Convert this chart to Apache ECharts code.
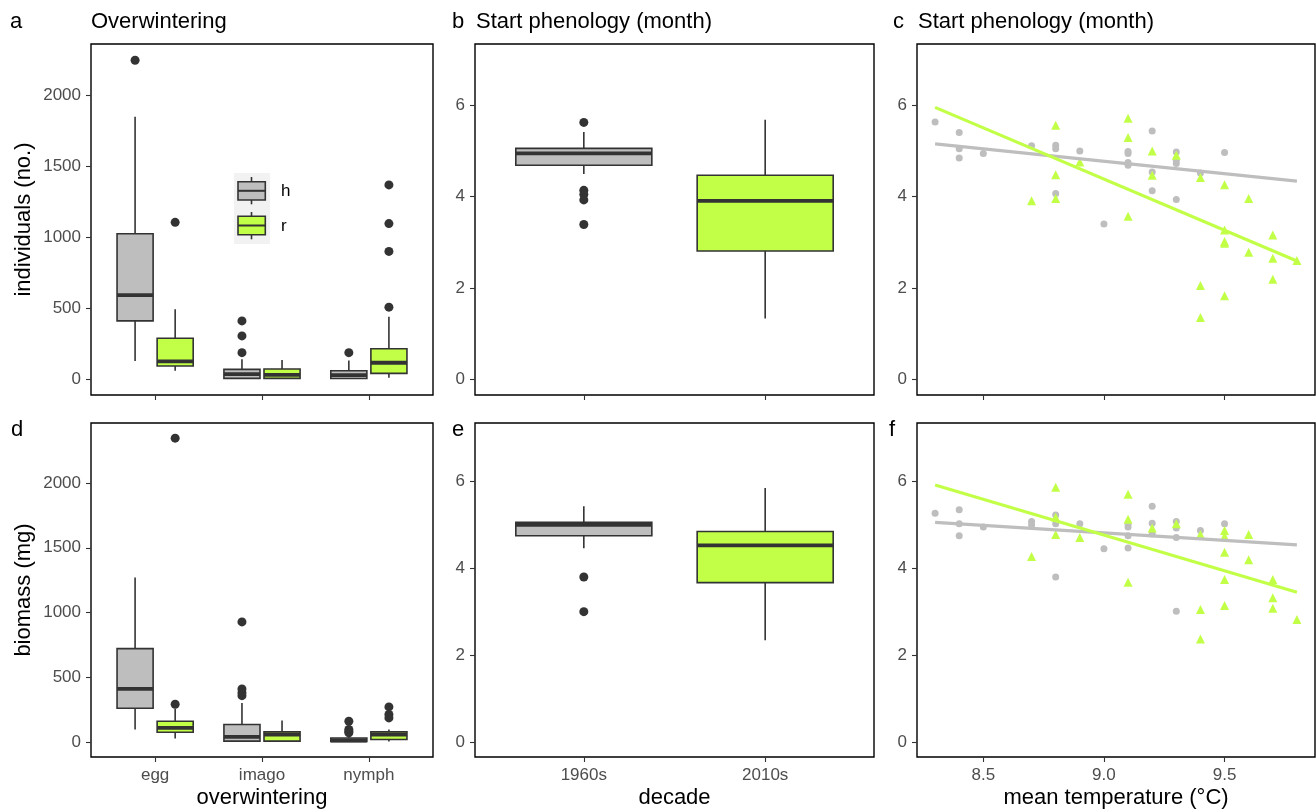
<!DOCTYPE html>
<html><head><meta charset="utf-8">
<script src="https://cdn.jsdelivr.net/npm/echarts@6/dist/echarts.min.js"></script>
<style>html,body{margin:0;padding:0;background:#fff}#c{width:1316px;height:812px}</style>
</head><body><div id="c"></div>
<script>
// ---------------- data ----------------
const overwinterCats = ['egg', 'imago', 'nymph'];
const decadeCats = ['1960s', '2010s'];
const groupNames = ['h', 'r'];
const countTicks = [0, 500, 1000, 1500, 2000];
const monthTicks = [0, 2, 4, 6];
const tempTicks = [8.5, 9.0, 9.5];

// box stats per category: [lower whisker, Q1, median, Q3, upper whisker]
const indivH = [[127, 410, 592, 1025, 1850], [0, 5, 35, 68, 139], [0, 4, 28, 59, 130]];
const indivR = [[59, 92, 125, 288, 493], [0, 5, 30, 71, 134], [10, 40, 115, 214, 440]];
const indivOutH = [[2248], [410, 304, 186], [186]];
const indivOutR = [[1105], [], [1369, 1096, 900, 507]];

const bioH = [[95, 259, 409, 720, 1271], [0, 5, 38, 134, 301], [0, 3, 10, 30, 42]];
const bioR = [[25, 74, 108, 159, 255], [0, 5, 56, 77, 164], [3, 18, 56, 77, 95]];
const bioOutH = [[], [927, 409, 380, 357], [159, 95, 80, 70]];
const bioOutR = [[2347, 290], [], [270, 211, 185]];

// per decade (1960s = h, 2010s = r)
const startBoxH = [[4.50, 4.69, 4.95, 5.06, 5.42]];
const startBoxR = [[1.33, 2.81, 3.91, 4.47, 5.69]];
const startOut = [[5.63, 4.14, 4.05, 3.93, 3.39], []];
const start2BoxH = [[4.46, 4.75, 5.00, 5.06, 5.43]];
const start2BoxR = [[2.34, 3.67, 4.53, 4.85, 5.85]];
const start2Out = [[3.80, 3.00], []];

// [mean temperature, start month]
const cH = [[8.3,5.64],[8.4,5.41],[8.4,5.05],[8.4,4.85],[8.5,4.95],[8.7,5.12],[8.8,5.13],[8.8,5.05],[8.8,4.07],[8.9,5.0],[9.0,3.40],[9.1,4.99],[9.1,4.95],[9.1,4.75],[9.1,4.69],[9.2,5.44],[9.2,4.54],[9.2,4.13],[9.3,4.98],[9.3,4.80],[9.3,4.73],[9.3,3.94],[9.4,4.52],[9.5,4.97]];
const cR = [[8.7,3.91],[8.8,5.57],[8.8,4.48],[8.8,3.96],[8.9,4.76],[9.1,5.72],[9.1,5.30],[9.1,3.57],[9.2,5.0],[9.2,4.47],[9.3,4.91],[9.4,4.42],[9.4,2.05],[9.4,1.35],[9.5,4.26],[9.5,3.27],[9.5,3.02],[9.5,2.98],[9.5,1.83],[9.6,3.96],[9.6,2.78],[9.7,3.16],[9.7,2.65],[9.7,2.19],[9.8,2.60]];
const fH = [[8.3,5.27],[8.4,5.35],[8.4,5.03],[8.4,4.75],[8.5,4.95],[8.7,5.08],[8.7,5.0],[8.8,5.23],[8.8,5.03],[8.8,3.80],[8.9,5.03],[9.0,4.45],[9.1,5.02],[9.1,4.95],[9.1,4.75],[9.1,4.47],[9.2,5.43],[9.2,5.04],[9.2,4.79],[9.3,5.08],[9.3,4.93],[9.3,4.71],[9.3,3.01],[9.4,4.87],[9.5,5.03]];
const fR = [[8.7,4.27],[8.8,5.87],[8.8,5.18],[8.8,4.78],[8.9,4.71],[9.1,5.71],[9.1,5.13],[9.1,3.68],[9.2,4.93],[9.3,5.03],[9.4,4.78],[9.4,3.05],[9.4,2.37],[9.5,4.87],[9.5,4.74],[9.5,4.37],[9.5,3.74],[9.5,3.14],[9.6,4.78],[9.6,4.20],[9.7,3.74],[9.7,3.32],[9.7,3.08],[9.8,2.82]];

// fitted line end points
const cFitH = [[8.3, 5.16], [9.8, 4.34]];
const cFitR = [[8.3, 5.96], [9.8, 2.59]];
const fFitH = [[8.3, 5.06], [9.8, 4.54]];
const fFitR = [[8.3, 5.92], [9.8, 3.45]];

// ---------------- style ----------------
const FONT = "'Liberation Sans', Arial, Helvetica, sans-serif";
const GREY = '#bebebe', GREEN = '#c2ff47', DARK = '#333333', TICKC = '#4d4d4d';

const gridPos = [
  {left: 91, top: 44, width: 342, height: 351},
  {left: 475, top: 44, width: 399, height: 351},
  {left: 917, top: 44, width: 398, height: 351},
  {left: 91, top: 423, width: 342, height: 334},
  {left: 475, top: 423, width: 399, height: 334},
  {left: 917, top: 423, width: 398, height: 334}
];
const grids = gridPos.map(g => Object.assign({
  show: true, borderColor: '#000', borderWidth: 1.4, backgroundColor: 'transparent',
  containLabel: false, outerBoundsMode: 'none'
}, g));

function axis(type, gi, min, max, ticks, fmt, showLabels) {
  return {
    type: 'value', gridIndex: gi, min: min, max: max, scale: true,
    splitLine: {show: false},
    axisLine: {show: false, onZero: false},
    axisTick: {show: true, customValues: ticks, length: 5, lineStyle: {color: DARK, width: 1.1}},
    axisLabel: {show: showLabels, customValues: ticks, formatter: fmt, color: TICKC,
      fontSize: 17, fontFamily: FONT, margin: type === 'x' ? 10 : 10}
  };
}
const catFmt = cats => (v => cats[Math.round(v) - 1]);
const numFmt = v => String(v);
const tempFmt = v => Number(v).toFixed(1);

const xAxes = [
  axis('x', 0, 0.4, 3.6, [1, 2, 3], catFmt(overwinterCats), false),
  axis('x', 1, 0.4, 2.6, [1, 2], catFmt(decadeCats), false),
  axis('x', 2, 8.225, 9.875, tempTicks, tempFmt, false),
  axis('x', 3, 0.4, 3.6, [1, 2, 3], catFmt(overwinterCats), true),
  axis('x', 4, 0.4, 2.6, [1, 2], catFmt(decadeCats), true),
  axis('x', 5, 8.225, 9.875, tempTicks, tempFmt, true)
];
const yAxes = [
  axis('y', 0, -112.5, 2362.5, countTicks, numFmt, true),
  axis('y', 1, -0.35, 7.35, monthTicks, numFmt, true),
  axis('y', 2, -0.35, 7.35, monthTicks, numFmt, true),
  axis('y', 3, -117.35, 2464.35, countTicks, numFmt, true),
  axis('y', 4, -0.35, 7.35, monthTicks, numFmt, true),
  axis('y', 5, -0.35, 7.35, monthTicks, numFmt, true)
];

function boxRender(fill, dodge, w) {
  return function (params, api) {
    const x = api.value(0) + dodge;
    const lo = api.coord([x, api.value(1)]);
    const q1 = api.coord([x, api.value(2)]);
    const md = api.coord([x, api.value(3)]);
    const q3 = api.coord([x, api.value(4)]);
    const hi = api.coord([x, api.value(5)]);
    const hw = api.size([w, 0])[0] / 2;
    const cx = q1[0];
    return {type: 'group', children: [
      {type: 'line', shape: {x1: cx, y1: q3[1], x2: cx, y2: hi[1]}, style: {stroke: DARK, lineWidth: 1.6}},
      {type: 'line', shape: {x1: cx, y1: q1[1], x2: cx, y2: lo[1]}, style: {stroke: DARK, lineWidth: 1.6}},
      {type: 'rect', shape: {x: cx - hw, y: q3[1], width: 2 * hw, height: q1[1] - q3[1]},
        style: {fill: fill, stroke: DARK, lineWidth: 1.6}},
      {type: 'line', shape: {x1: cx - hw, y1: md[1], x2: cx + hw, y2: md[1]}, style: {stroke: DARK, lineWidth: 3.8}}
    ]};
  };
}
function boxSeries(gi, stats, fill, dodge, w, startIdx) {
  const s0 = startIdx || 1;
  return {
    type: 'custom', xAxisIndex: gi, yAxisIndex: gi,
    data: stats.map((s, i) => [i + s0].concat(s)),
    encode: {x: 0, y: [1, 2, 3, 4, 5]},
    renderItem: boxRender(fill, dodge, w), z: 3, silent: true
  };
}
function outlierSeries(gi, outs, dodge) {
  const d = [];
  outs.forEach((arr, i) => arr.forEach(v => d.push([i + 1 + dodge, v])));
  return {type: 'scatter', xAxisIndex: gi, yAxisIndex: gi, data: d, symbol: 'circle',
    symbolSize: 9, itemStyle: {color: DARK, opacity: 1}, z: 4, silent: true};
}
function pointSeries(gi, d, sym, size, color) {
  return {type: 'scatter', xAxisIndex: gi, yAxisIndex: gi, data: d, symbol: sym, symbolSize: size,
    itemStyle: {color: color, opacity: 1}, z: 3, silent: true};
}
function fitSeries(gi, d, color) {
  return {type: 'line', xAxisIndex: gi, yAxisIndex: gi, data: d, showSymbol: false, symbol: 'none',
    lineStyle: {color: color, width: 3.2}, z: 5, silent: true};
}

const DW = 0.1875, BW = 0.3375;
const series = [
  boxSeries(0, indivH, GREY, -DW, BW), boxSeries(0, indivR, GREEN, DW, BW),
  outlierSeries(0, indivOutH, -DW), outlierSeries(0, indivOutR, DW),
  boxSeries(3, bioH, GREY, -DW, BW), boxSeries(3, bioR, GREEN, DW, BW),
  outlierSeries(3, bioOutH, -DW), outlierSeries(3, bioOutR, DW),
  boxSeries(1, startBoxH, GREY, 0, 0.75, 1),
  boxSeries(1, startBoxR, GREEN, 0, 0.75, 2),
  outlierSeries(1, startOut, 0),
  boxSeries(4, start2BoxH, GREY, 0, 0.75, 1),
  boxSeries(4, start2BoxR, GREEN, 0, 0.75, 2),
  outlierSeries(4, start2Out, 0),
  pointSeries(2, cH, 'circle', 7, GREY), pointSeries(2, cR, 'triangle', 9, GREEN),
  fitSeries(2, cFitH, GREY), fitSeries(2, cFitR, GREEN),
  pointSeries(5, fH, 'circle', 7, GREY), pointSeries(5, fR, 'triangle', 9, GREEN),
  fitSeries(5, fFitH, GREY), fitSeries(5, fFitR, GREEN)
];

// ---------------- text & legend ----------------
function txt(s, x, y, size, align, rot, color) {
  return {type: 'text', x: x, y: y, rotation: rot || 0, silent: true, z: 10,
    style: {text: s, font: size + 'px ' + FONT, fill: color || '#000', align: align || 'left', verticalAlign: 'middle'}};
}
const graphics = [
  txt('a', 10, 22, 22), txt('Overwintering', 91, 22, 22),
  txt('b', 452, 22, 22), txt('Start phenology (month)', 476, 22, 22),
  txt('c', 893, 22, 22), txt('Start phenology (month)', 918, 22, 22),
  txt('d', 11, 430, 22), txt('e', 452, 430, 22), txt('f', 889, 430, 22),
  txt('individuals (no.)', 23.5, 219.5, 22, 'center', Math.PI / 2),
  txt('biomass (mg)', 23.5, 590, 22, 'center', Math.PI / 2),
  txt('overwintering', 262, 798, 22, 'center'),
  txt('decade', 674.5, 798, 22, 'center'),
  txt('mean temperature (°C)', 1116, 798, 22, 'center'),
  // legend
  {type: 'rect', shape: {x: 234, y: 173, width: 36, height: 71}, style: {fill: '#f2f2f2'}, z: 6, silent: true},
  {type: 'line', shape: {x1: 251.5, y1: 177, x2: 251.5, y2: 204.3}, style: {stroke: DARK, lineWidth: 1.6}, z: 7, silent: true},
  {type: 'rect', shape: {x: 238, y: 181.7, width: 27.3, height: 18.3}, style: {fill: GREY, stroke: DARK, lineWidth: 1.6}, z: 8, silent: true},
  {type: 'line', shape: {x1: 238, y1: 190.8, x2: 265.3, y2: 190.8}, style: {stroke: DARK, lineWidth: 2}, z: 9, silent: true},
  {type: 'line', shape: {x1: 251.5, y1: 212, x2: 251.5, y2: 239.3}, style: {stroke: DARK, lineWidth: 1.6}, z: 7, silent: true},
  {type: 'rect', shape: {x: 238, y: 216.3, width: 27.3, height: 18.4}, style: {fill: GREEN, stroke: DARK, lineWidth: 1.6}, z: 8, silent: true},
  {type: 'line', shape: {x1: 238, y1: 225.5, x2: 265.3, y2: 225.5}, style: {stroke: DARK, lineWidth: 2}, z: 9, silent: true},
  txt(groupNames[0], 281, 191, 17),
  txt(groupNames[1], 281, 226.5, 17)
];

const chart = echarts.init(document.getElementById('c'), null, {renderer: 'canvas'});
chart.setOption({
  backgroundColor: '#ffffff',
  animation: false,
  textStyle: {fontFamily: FONT},
  grid: grids,
  xAxis: xAxes,
  yAxis: yAxes,
  series: series,
  graphic: graphics
});
</script>
</body></html>
